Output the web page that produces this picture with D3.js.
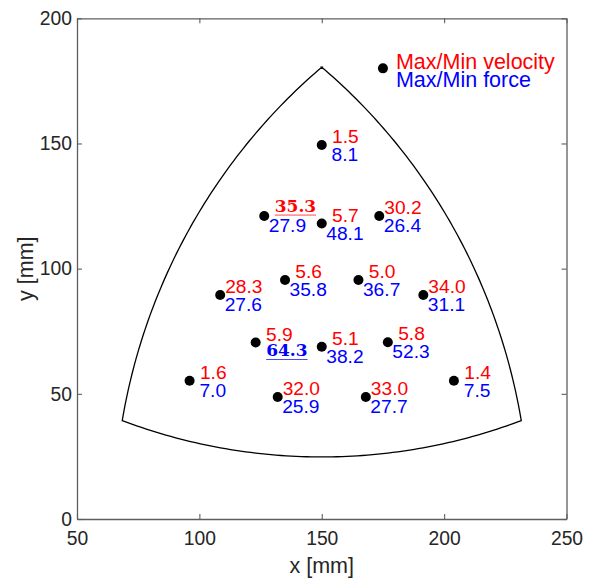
<!DOCTYPE html>
<html>
<head>
<meta charset="utf-8">
<script src="https://cdn.jsdelivr.net/npm/d3@7"></script>
<style>
  html, body { margin: 0; padding: 0; background: #fff; }
  svg { display: block; font-family: "Liberation Sans", Arial, sans-serif; }
</style>
</head>
<body>
<svg id="chart" width="594" height="580"></svg>
<script>
// Measurement positions [mm]
const posX = [150, 126.5, 150, 173.5, 108.5, 135, 165, 191.5, 123, 150, 177, 96, 132, 168, 204];
const posY = [149.4, 121, 118, 121, 89.5, 95.5, 95.5, 89.5, 70.5, 68.8, 70.6, 55.2, 48.7, 48.7, 55.2];
// Max/Min velocity ratio and Max/Min force ratio at each position
const velocity = [1.5, 35.3, 5.7, 30.2, 28.3, 5.6, 5.0, 34.0, 5.9, 5.1, 5.8, 1.6, 32.0, 33.0, 1.4];
const force    = [8.1, 27.9, 48.1, 26.4, 27.6, 35.8, 36.7, 31.1, 64.3, 38.2, 52.3, 7.0, 25.9, 27.7, 7.5];

// Workspace outline: three corners joined by outward circular arcs
const cornerX = [68.5, 231.5, 150];
const cornerY = [39.3, 39.3, 180.5];
const arcRadius = 236;

// Legend
const legendPos = [175, 180];
const legendLabels = ["Max/Min velocity", "Max/Min force"];

// Axes
const xDomain = [50, 250];
const yDomain = [0, 200];
const xTicks = [50, 100, 150, 200, 250];
const yTicks = [0, 50, 100, 150, 200];
const xTitle = "x [mm]";
const yTitle = "y [mm]";

const RED = "#ff0000", BLUE = "#0000ff", AXIS = "#262626";
const plot = { left: 77, right: 566.5, top: 18.3, bottom: 519 };

const svg = d3.select("#chart");
const x = d3.scaleLinear().domain(xDomain).range([plot.left, plot.right]);
const y = d3.scaleLinear().domain(yDomain).range([plot.bottom, plot.top]);

// ---- axes (box with inward ticks) ----
function styleAxis(g) {
  g.selectAll("path.domain").attr("stroke", "#5e5e5e").attr("stroke-width", 1.3);
  g.selectAll(".tick line").attr("stroke", "#5e5e5e").attr("stroke-width", 1.1);
  g.selectAll(".tick text").attr("fill", AXIS).style("font-size", "19.3px")
    .style("font-family", "'Liberation Sans', Arial, sans-serif");
}
svg.append("g").attr("transform", `translate(0,${plot.bottom})`)
  .call(d3.axisBottom(x).tickValues(xTicks).tickSizeInner(-5).tickSizeOuter(0).tickPadding(12))
  .call(styleAxis);
svg.append("g").attr("transform", `translate(0,${plot.top})`)
  .call(d3.axisTop(x).tickValues(xTicks).tickSizeInner(-5).tickSizeOuter(0).tickFormat(""))
  .call(styleAxis);
svg.append("g").attr("transform", `translate(${plot.left},0)`)
  .call(d3.axisLeft(y).tickValues(yTicks).tickSizeInner(-5).tickSizeOuter(0).tickPadding(5))
  .call(styleAxis);
svg.append("g").attr("transform", `translate(${plot.right},0)`)
  .call(d3.axisRight(y).tickValues(yTicks).tickSizeInner(-5).tickSizeOuter(0).tickFormat(""))
  .call(styleAxis);

svg.append("text").attr("x", x(150)).attr("y", 573).attr("text-anchor", "middle")
  .attr("fill", AXIS).style("font-size", "21.5px").text(xTitle);
svg.append("text").attr("transform", `translate(33,${(plot.top + plot.bottom) / 2}) rotate(-90)`)
  .attr("text-anchor", "middle").attr("fill", AXIS).style("font-size", "21.5px").text(yTitle);

// ---- workspace outline ----
const cx0 = d3.mean(cornerX), cy0 = d3.mean(cornerY);
const outline = [];
for (let i = 0; i < 3; i++) {
  const ax = cornerX[i], ay = cornerY[i];
  const bx = cornerX[(i + 1) % 3], by = cornerY[(i + 1) % 3];
  const mx = (ax + bx) / 2, my = (ay + by) / 2;
  const half = Math.hypot(bx - ax, by - ay) / 2;
  let nx = mx - cx0, ny = my - cy0;
  const nl = Math.hypot(nx, ny); nx /= nl; ny /= nl;
  const d = Math.sqrt(arcRadius * arcRadius - half * half);
  const ccx = mx - nx * d, ccy = my - ny * d;
  const a0 = Math.atan2(ay - ccy, ax - ccx);
  let da = Math.atan2(by - ccy, bx - ccx) - a0;
  while (da > Math.PI) da -= 2 * Math.PI;
  while (da < -Math.PI) da += 2 * Math.PI;
  const n = 80;
  for (let k = 0; k <= n; k++) {
    const a = a0 + da * k / n;
    outline.push([ccx + arcRadius * Math.cos(a), ccy + arcRadius * Math.sin(a)]);
  }
}
svg.append("path")
  .attr("d", d3.line().x(p => x(p[0])).y(p => y(p[1]))(outline) + "Z")
  .attr("fill", "none").attr("stroke", "#000").attr("stroke-width", 1.3)
  .attr("stroke-linejoin", "miter");

// ---- points and labels ----
const fmt = v => d3.format("4.1f")(v).replace(/ /g, "\u00A0");
const maxVel = d3.max(velocity), maxForce = d3.max(force);
const pts = posX.map((px, i) => ({ x: px, y: posY[i], v: velocity[i], f: force[i] }));

function addLabel(px, py, value, color, isMax, baseShift, dxNormal) {
  if (!isMax) {
    svg.append("text").attr("x", px + dxNormal).attr("y", py + baseShift)
      .attr("fill", color).style("font-size", "19.2px").text(fmt(value));
  } else {
    const t = svg.append("text").attr("x", px + 10.5).attr("y", py + baseShift - 2.4)
      .attr("fill", color)
      .style("font-family", "'DejaVu Serif', serif").style("font-weight", "bold")
      .style("font-size", "17px").text(d3.format(".1f")(value));
    const w = t.node().getComputedTextLength();
    svg.append("line")
      .attr("x1", px + 10.5).attr("x2", px + 10.5 + w)
      .attr("y1", py + baseShift + 1).attr("y2", py + baseShift + 1)
      .attr("stroke", color).attr("stroke-width", 0.9).attr("stroke-opacity", 0.8);
  }
}

pts.forEach(p => {
  const px = x(p.x), py = y(p.y);
  svg.append("circle").attr("cx", px).attr("cy", py).attr("r", 5).attr("fill", "#000");
  addLabel(px, py, p.v, RED, p.v === maxVel, -2, 5);
  addLabel(px, py, p.f, BLUE, p.f === maxForce, 16, 4.5);
});

// ---- legend ----
const lx = x(legendPos[0]), ly = y(legendPos[1]);
svg.append("circle").attr("cx", lx).attr("cy", ly).attr("r", 5).attr("fill", "#000");
svg.append("text").attr("x", lx + 13).attr("y", ly + 0.5).attr("fill", RED)
  .style("font-size", "21.5px").text(legendLabels[0]);
svg.append("text").attr("x", lx + 13).attr("y", ly + 18.5).attr("fill", BLUE)
  .style("font-size", "21.5px").text(legendLabels[1]);
</script>
</body>
</html>
